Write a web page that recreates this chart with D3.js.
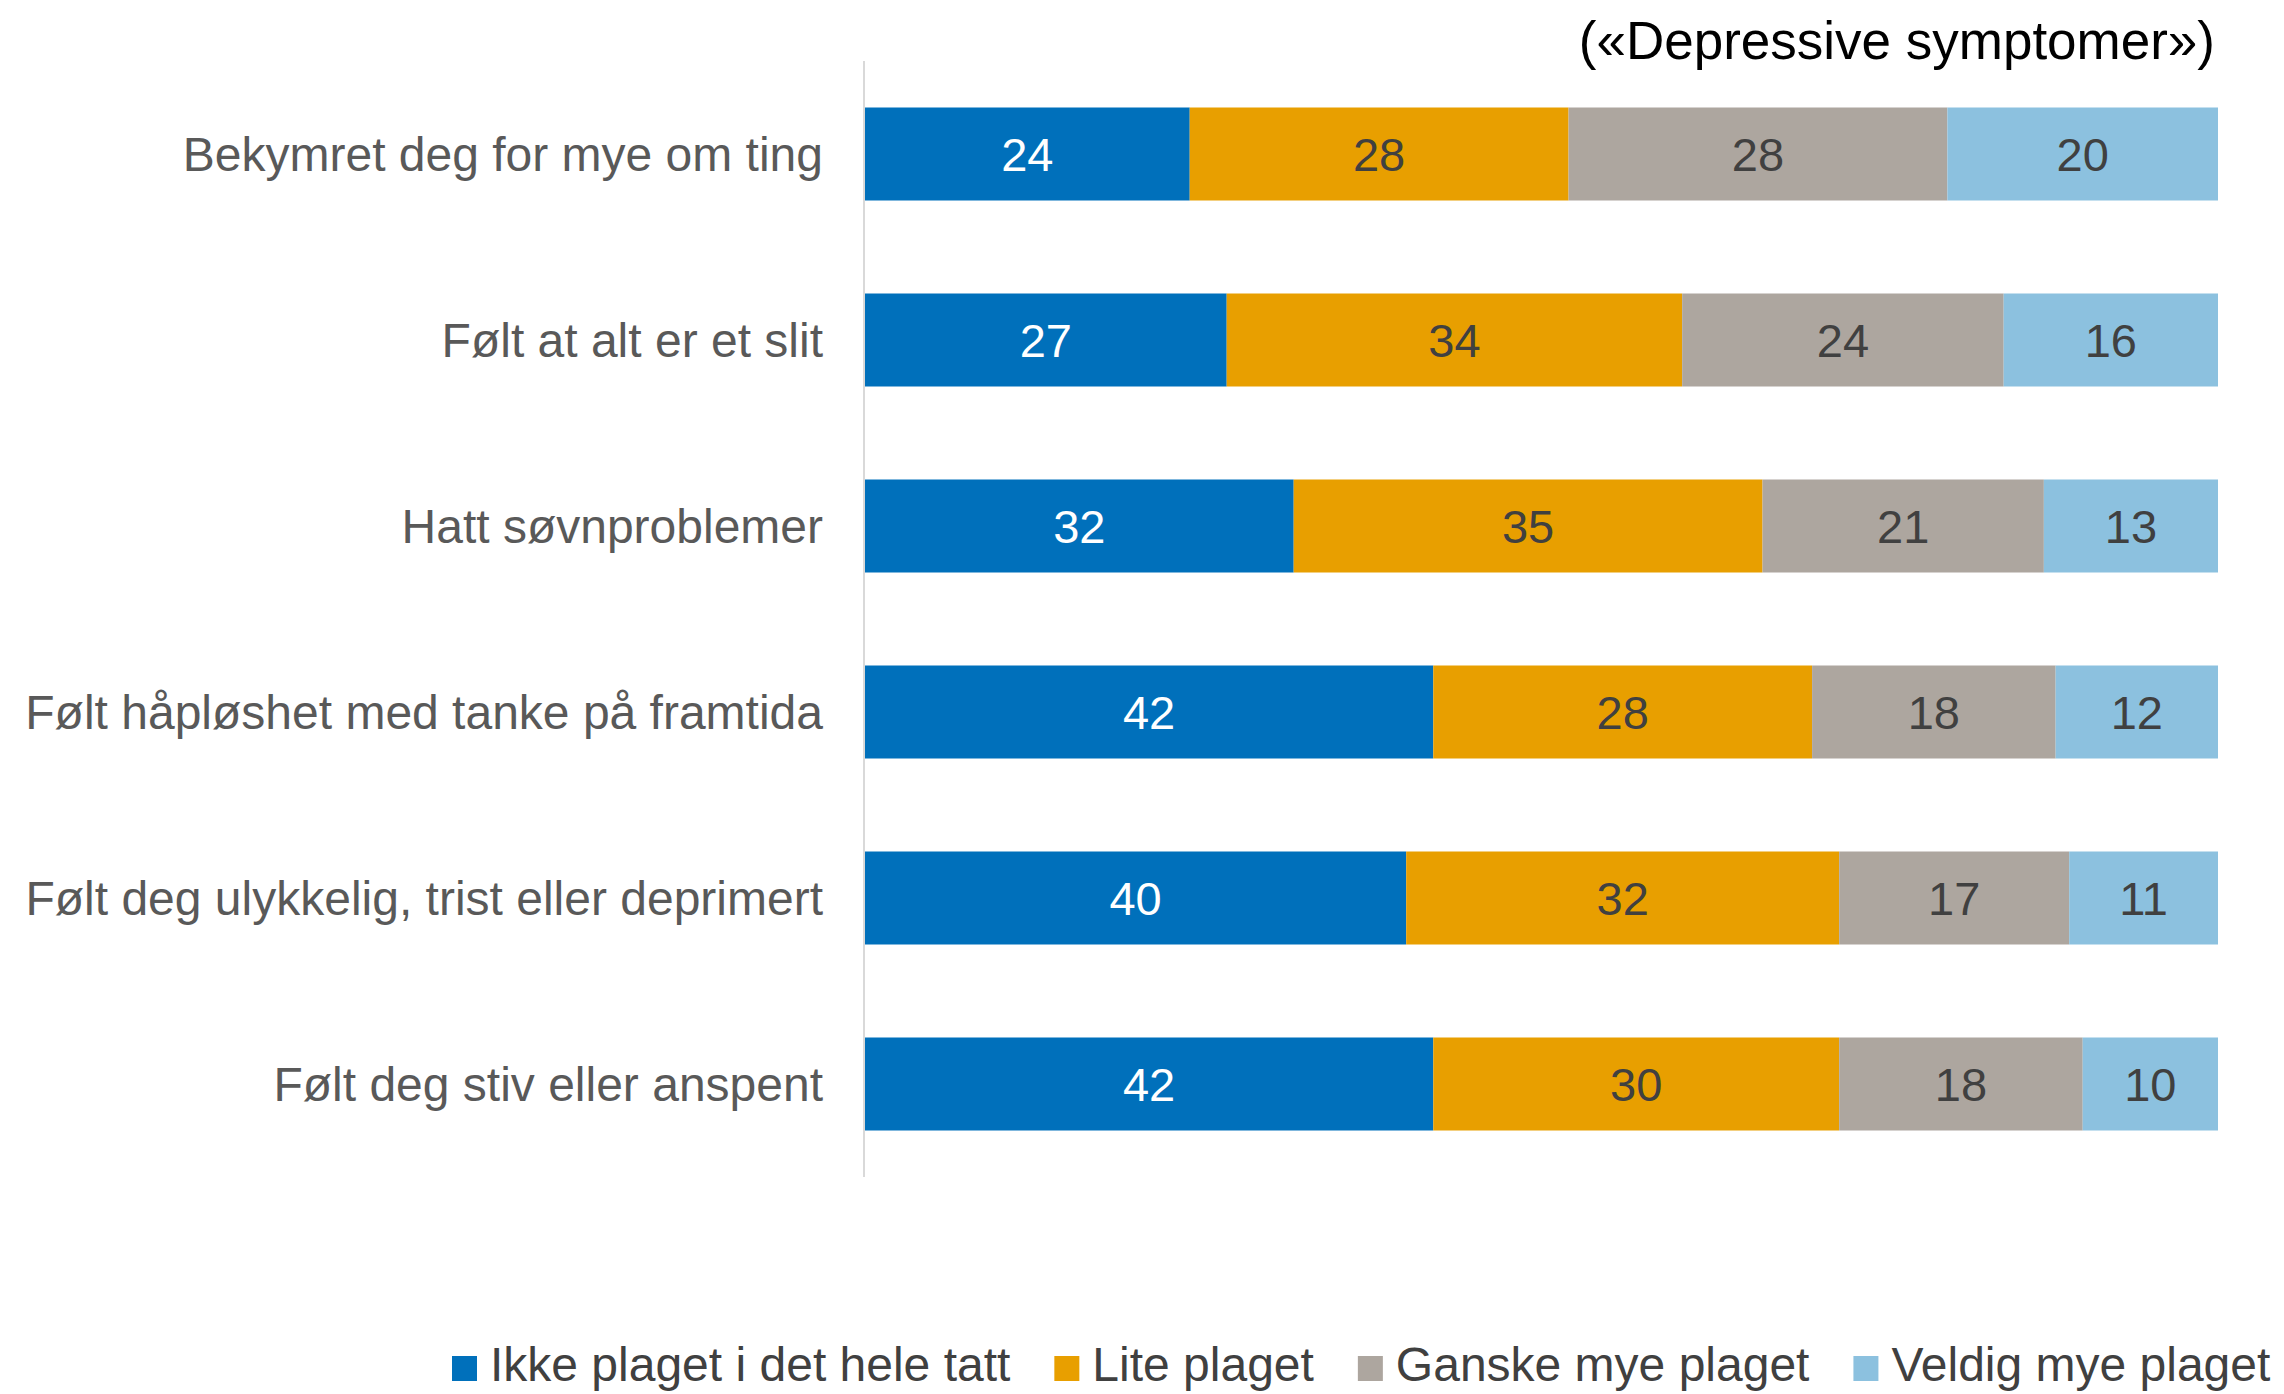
<!DOCTYPE html>
<html>
<head>
<meta charset="utf-8">
<script src="https://cdn.jsdelivr.net/npm/d3@7"></script>
<style>
  body { margin: 0; background: #fff; }
  svg { display: block; font-family: "Liberation Sans", Arial, sans-serif; }
</style>
</head>
<body>
<div id="chart"></div>
<script>
// Chart data
const categories = [
  'Bekymret deg for mye om ting',
  'Følt at alt er et slit',
  'Hatt søvnproblemer',
  'Følt håpløshet med tanke på framtida',
  'Følt deg ulykkelig, trist eller deprimert',
  'Følt deg stiv eller anspent'
];
const seriesNames = ['Ikke plaget i det hele tatt', 'Lite plaget', 'Ganske mye plaget', 'Veldig mye plaget'];
const ikkePlaget = [24, 27, 32, 42, 40, 42];
const litePlaget = [28, 34, 35, 28, 32, 30];
const ganskeMye = [28, 24, 21, 18, 17, 18];
const veldigMye = [20, 16, 13, 12, 11, 10];
const title = '(«Depressive symptomer»)';

const colors = ['#0070BB', '#E89F00', '#ADA69F', '#8CC1DF'];
const labelColors = ['#ffffff', '#404040', '#404040', '#404040'];

const W = 2284, H = 1394;
const margin = { left: 865, right: 2218, top: 61, bottom: 1177 };

const svg = d3.select('#chart').append('svg')
  .attr('width', W)
  .attr('height', H);

// build rows, normalised to 100 % like a 100% stacked bar
const series = [ikkePlaget, litePlaget, ganskeMye, veldigMye];
const rows = categories.map((c, i) => {
  const row = { cat: c };
  seriesNames.forEach((s, j) => { row[s] = series[j][i]; });
  return row;
});
const stack = d3.stack().keys(seriesNames).offset(d3.stackOffsetExpand);
const stacked = stack(rows);

const x = d3.scaleLinear().domain([0, 1]).range([margin.left, margin.right]);
const y = d3.scaleBand().domain(categories).range([margin.top, margin.bottom])
  .paddingInner(0.5).paddingOuter(0.25);

// bars
const groups = svg.append('g').selectAll('g')
  .data(stacked)
  .enter().append('g')
  .attr('fill', (d, i) => colors[i]);

groups.selectAll('rect')
  .data(d => d)
  .enter().append('rect')
  .attr('x', d => x(d[0]))
  .attr('y', d => y(d.data.cat))
  .attr('width', d => x(d[1]) - x(d[0]))
  .attr('height', y.bandwidth());

// value labels
groups.each(function (s, i) {
  d3.select(this).selectAll('text')
    .data(s)
    .enter().append('text')
    .attr('x', d => (x(d[0]) + x(d[1])) / 2)
    .attr('y', d => y(d.data.cat) + y.bandwidth() / 2)
    .attr('dy', '0.36em')
    .attr('text-anchor', 'middle')
    .attr('font-size', 47)
    .attr('fill', labelColors[i])
    .text(d => d.data[s.key]);
});

// category axis
svg.append('line')
  .attr('x1', margin.left - 1).attr('x2', margin.left - 1)
  .attr('y1', margin.top).attr('y2', margin.bottom)
  .attr('stroke', '#D9D9D9')
  .attr('stroke-width', 2);

svg.append('g').selectAll('text')
  .data(categories)
  .enter().append('text')
  .attr('x', margin.left - 42)
  .attr('y', d => y(d) + y.bandwidth() / 2)
  .attr('dy', '0.36em')
  .attr('text-anchor', 'end')
  .attr('font-size', 48)
  .attr('fill', '#595959')
  .text(d => d);

// title
svg.append('text')
  .attr('x', 2215)
  .attr('y', 59)
  .attr('text-anchor', 'end')
  .attr('font-size', 53)
  .attr('fill', '#000')
  .text(title);

// legend
const legend = svg.append('g');
let lx = 452;
seriesNames.forEach((name, i) => {
  legend.append('rect')
    .attr('x', lx).attr('y', 1356)
    .attr('width', 25).attr('height', 25)
    .attr('fill', colors[i]);
  const t = legend.append('text')
    .attr('x', lx + 38)
    .attr('y', 1381)
    .attr('font-size', 48)
    .attr('fill', '#404040')
    .text(name);
  lx += 38 + t.node().getComputedTextLength() + 44;
});
</script>
</body>
</html>
